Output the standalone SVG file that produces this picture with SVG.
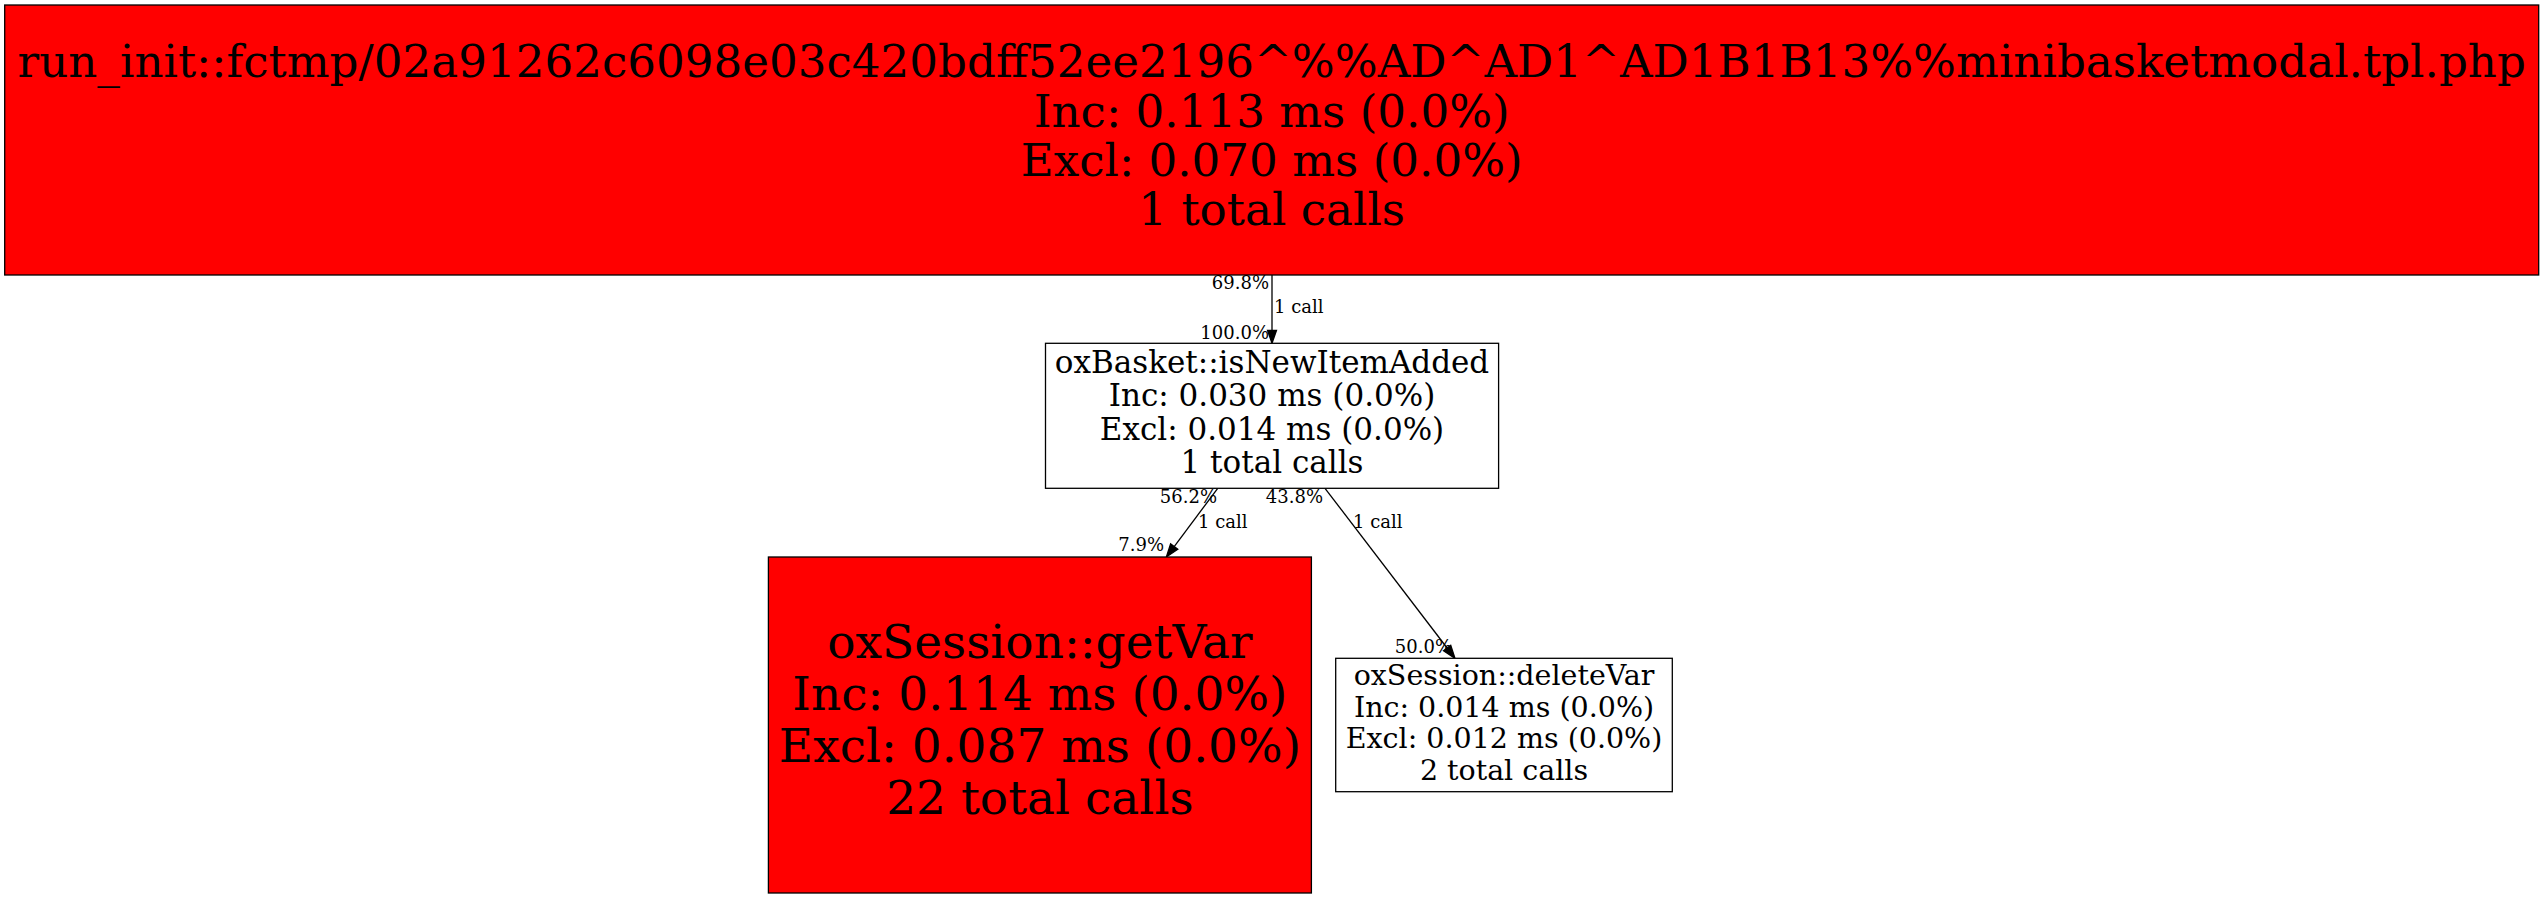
<svg xmlns="http://www.w3.org/2000/svg" width="2544" height="899" viewBox="0 0 2544 899">
<style>
text { font-family: "DejaVu Serif", serif; fill: #000; text-anchor: middle; }
.box { stroke: #000; stroke-width: 1.3; }
.hot { fill: #ff0000; }
.cold { fill: #ffffff; }
.edge { stroke: #000; stroke-width: 1.3; fill: none; }
.head { fill: #000; stroke: #000; stroke-width: 1.3; }
.lbl { font-size: 18px; }
.end { text-anchor: end; }
.start { text-anchor: start; }
</style>
<rect width="2544" height="899" fill="#ffffff"/>
<g id="connectors">
  <g id="e1">
    <line class="edge" x1="1272" y1="275" x2="1272" y2="330.3"/>
    <polygon class="head" points="1267.5,330.3 1272,343.3 1276.5,330.3"/>
    <text class="lbl end" x="1269" y="289">69.8%</text>
    <text class="lbl start" x="1274" y="313">1 call</text>
    <text class="lbl end" x="1269" y="339">100.0%</text>
  </g>
  <g id="e2">
    <line class="edge" x1="1217.7" y1="488.3" x2="1174.2" y2="546.6"/>
    <polygon class="head" points="1177.8,549.3 1166.4,557 1170.6,543.9"/>
    <text class="lbl end" x="1217" y="502.7">56.2%</text>
    <text class="lbl start" x="1198" y="527.7">1 call</text>
    <text class="lbl end" x="1164" y="551">7.9%</text>
  </g>
  <g id="e3">
    <line class="edge" x1="1325" y1="488.3" x2="1447.1" y2="648"/>
    <polygon class="head" points="1450.7,645.3 1455,658.3 1443.5,650.7"/>
    <text class="lbl end" x="1323" y="502.7">43.8%</text>
    <text class="lbl start" x="1353" y="527.7">1 call</text>
    <text class="lbl end" x="1452" y="653">50.0%</text>
  </g>
</g>
<g id="node_run_init">
  <rect class="box hot" x="4.7" y="5" width="2534" height="270"/>
  <text x="1271.7" y="77.3" font-size="45.2">run_init::fctmp/02a91262c6098e03c420bdff52ee2196^%%AD^AD1^AD1B1B13%%minibasketmodal.tpl.php</text>
  <text x="1271.7" y="126.5" font-size="45.2">Inc: 0.113 ms (0.0%)</text>
  <text x="1271.7" y="175.7" font-size="45.2">Excl: 0.070 ms (0.0%)</text>
  <text x="1271.7" y="225" font-size="45.2">1 total calls</text>
</g>
<g id="node_isNewItemAdded">
  <rect class="box cold" x="1045.5" y="343.3" width="453.1" height="145"/>
  <text x="1272" y="372.7" font-size="31">oxBasket::isNewItemAdded</text>
  <text x="1272" y="406.2" font-size="31">Inc: 0.030 ms (0.0%)</text>
  <text x="1272" y="439.7" font-size="31">Excl: 0.014 ms (0.0%)</text>
  <text x="1272" y="473.2" font-size="31">1 total calls</text>
</g>
<g id="node_getVar">
  <rect class="box hot" x="768.4" y="557" width="543" height="336"/>
  <text x="1039.9" y="658" font-size="47">oxSession::getVar</text>
  <text x="1039.9" y="710" font-size="47">Inc: 0.114 ms (0.0%)</text>
  <text x="1039.9" y="762" font-size="47">Excl: 0.087 ms (0.0%)</text>
  <text x="1039.9" y="814" font-size="47">22 total calls</text>
</g>
<g id="node_deleteVar">
  <rect class="box cold" x="1335.7" y="658.3" width="336.6" height="133.4"/>
  <text x="1504" y="685" font-size="28.5">oxSession::deleteVar</text>
  <text x="1504" y="716.5" font-size="28.5">Inc: 0.014 ms (0.0%)</text>
  <text x="1504" y="748" font-size="28.5">Excl: 0.012 ms (0.0%)</text>
  <text x="1504" y="779.5" font-size="28.5">2 total calls</text>
</g>
</svg>
